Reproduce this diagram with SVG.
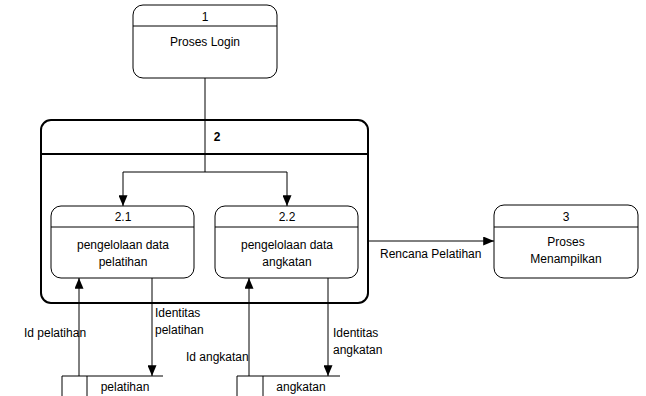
<svg xmlns="http://www.w3.org/2000/svg" width="646" height="396" viewBox="0 0 646 396">
<defs>
<marker id="ah" viewBox="0 0 12 10" refX="12" refY="5" markerWidth="11" markerHeight="9" markerUnits="userSpaceOnUse" orient="auto"><path d="M0,0 L12,5 L0,10 z" fill="#000"/></marker>
<style>
.box{fill:#fff;stroke:#000;stroke-width:1}
.thick{fill:#fff;stroke:#000;stroke-width:2}
.ln{fill:none;stroke:#000;stroke-width:1}
.arr{fill:none;stroke:#000;stroke-width:1;marker-end:url(#ah)}
text{font-family:"Liberation Sans",Arial,sans-serif;font-size:12px;fill:#000;text-anchor:middle}
.lbl{text-anchor:start}
</style>
</defs>
<rect width="646" height="396" fill="#fff"/>
<g id="node-2">
<rect class="thick" x="41" y="120" width="327" height="183" rx="10"/>
<line class="thick" x1="41" y1="154" x2="368" y2="154"/>
<text x="217" y="141" style="font-weight:bold">2</text>
</g>
<g id="connectors">
<path class="ln" d="M205,78 V172"/>
<path class="arr" d="M205,172 H123 V206"/>
<path class="arr" d="M205,172 H287 V206"/>
<path class="arr" d="M368,241 H494"/>
<path class="arr" d="M79,376 V278"/>
<path class="arr" d="M152,278 V376"/>
<path class="arr" d="M249,376 V278"/>
<path class="arr" d="M328,278 V376"/>
<text class="lbl" x="380" y="258">Rencana Pelatihan</text>
<text class="lbl" x="24" y="337">Id pelatihan</text>
<text class="lbl" x="155" y="317">Identitas</text>
<text class="lbl" x="155" y="334">pelatihan</text>
<text class="lbl" x="186" y="361">Id angkatan</text>
<text class="lbl" x="333" y="337">Identitas</text>
<text class="lbl" x="333" y="354">angkatan</text>
</g>
<g id="node-1">
<rect class="box" x="133" y="5" width="144" height="73" rx="10"/>
<line class="ln" x1="133" y1="26" x2="277" y2="26"/>
<text x="205" y="21">1</text>
<text x="205" y="46">Proses Login</text>
</g>
<g id="node-2-1">
<rect class="box" x="51" y="206" width="143" height="72" rx="10"/>
<line class="ln" x1="51" y1="227" x2="194" y2="227"/>
<text x="123" y="221">2.1</text>
<text x="123" y="249">pengelolaan data</text>
<text x="123" y="266">pelatihan</text>
</g>
<g id="node-2-2">
<rect class="box" x="215" y="206" width="143" height="72" rx="10"/>
<line class="ln" x1="215" y1="227" x2="358" y2="227"/>
<text x="287" y="221">2.2</text>
<text x="287" y="249">pengelolaan data</text>
<text x="287" y="266">angkatan</text>
</g>
<g id="node-3">
<rect class="box" x="494" y="205" width="144" height="73" rx="10"/>
<line class="ln" x1="494" y1="227" x2="638" y2="227"/>
<text x="566" y="221">3</text>
<text x="566" y="246">Proses</text>
<text x="566" y="263">Menampilkan</text>
</g>
<g id="store-pelatihan">
<path class="ln" d="M163,376 H62 V396 M87,376 V396"/>
<text x="125" y="391">pelatihan</text>
</g>
<g id="store-angkatan">
<path class="ln" d="M340,376 H237 V396 M263,376 V396"/>
<text x="301" y="391">angkatan</text>
</g>
</svg>
